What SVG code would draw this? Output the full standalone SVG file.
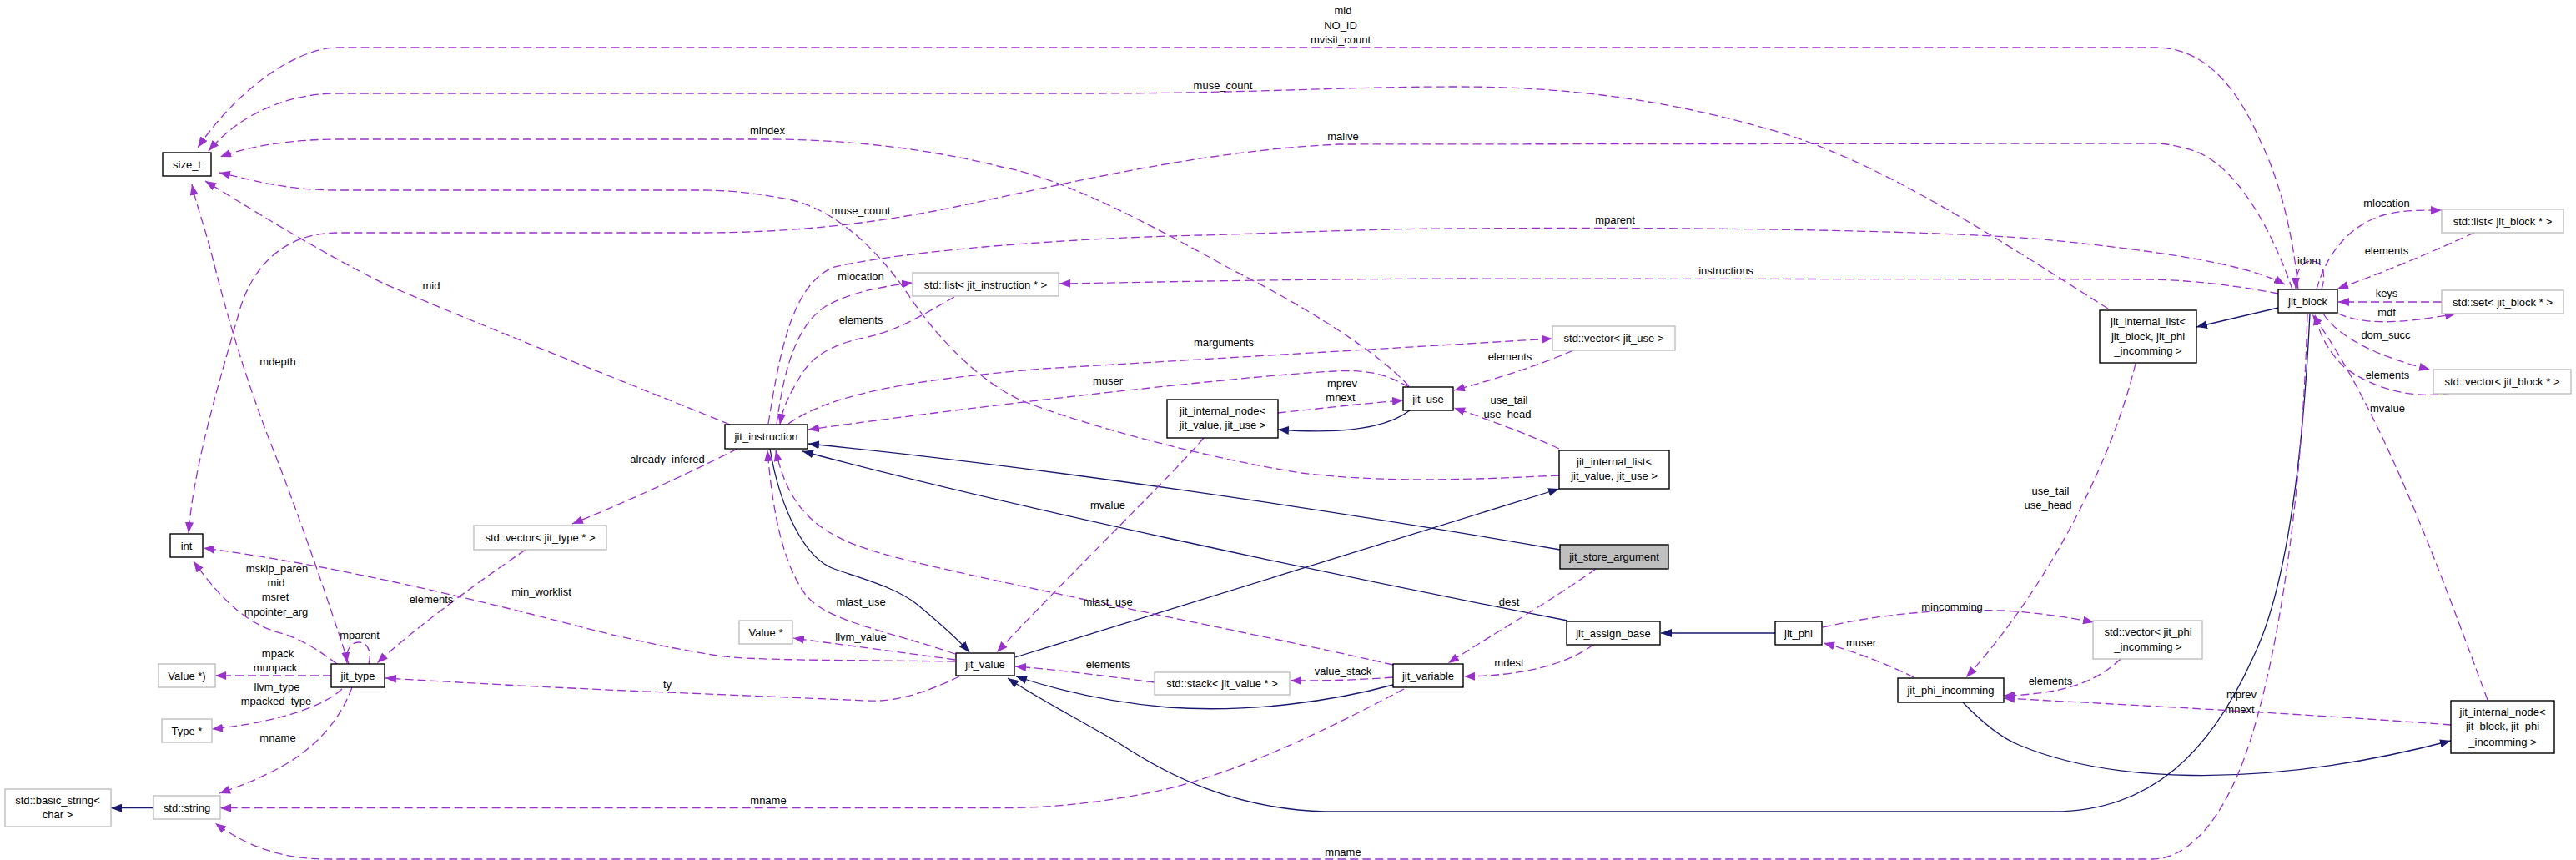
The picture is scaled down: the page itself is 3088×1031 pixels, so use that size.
<svg xmlns="http://www.w3.org/2000/svg" width="3088" height="1031" viewBox="0 0 3088 1031">
<defs>
<style>
.n rect{fill:#fff;stroke:#000;stroke-width:1.4}
.g rect{fill:#fff;stroke:#bfbfbf;stroke-width:1.4}
.f rect{fill:#bfbfbf;stroke:#000;stroke-width:1.4}
text{font-family:"Liberation Sans",Arial,sans-serif;font-size:13px;fill:#000;text-anchor:middle}
.e{fill:none;stroke:#9a32cd;stroke-width:1.3;stroke-dasharray:10,5;marker-end:url(#ap)}
.i{fill:none;stroke:#191970;stroke-width:1.3;marker-end:url(#an)}
</style>
<marker id="ap" viewBox="0 0 13 10" refX="13" refY="5" markerWidth="13" markerHeight="10" markerUnits="userSpaceOnUse" orient="auto"><path d="M0,0L13,5L0,10z" fill="#9a32cd" stroke="none"/></marker>
<marker id="an" viewBox="0 0 13 10" refX="13" refY="5" markerWidth="13" markerHeight="10" markerUnits="userSpaceOnUse" orient="auto"><path d="M0,0L13,5L0,10z" fill="#191970" stroke="none"/></marker>
</defs>
<rect width="3088" height="1031" fill="#fff"/>
<g id="connectors">
<path class="i" d="M1870,659 C1600,612 1250,560 969,532"/>
<path class="i" d="M1879,744 C1600,690 1200,605 962,541"/>
<path class="i" d="M923,538 C935,610 965,670 1000,682 C1040,696 1075,705 1100,725 C1130,750 1150,768 1162,782"/>
<path class="i" d="M1670,821 C1600,840 1500,855 1400,848 C1330,842 1270,828 1218,811"/>
<path class="i" d="M1217,788 C1400,730 1700,640 1869,586"/>
<path class="i" d="M2769,376 C2762,520 2745,700 2700,790 C2650,900 2580,973 2461,973 L1589,973 C1480,970 1400,930 1340,890 C1280,855 1240,835 1208,813"/>
<path class="i" d="M2731,369 L2633,392"/>
<path class="i" d="M2353,842 C2380,870 2400,885 2420,893 C2520,935 2700,950 2938,888"/>
<path class="i" d="M1690,492 C1660,515 1600,520 1532,515"/>
<path class="i" d="M2128,759 L1991,759"/>
<path class="i" d="M184,968.7 L133,968.7"/>
<path class="e" d="M2755,347 C2750,290 2735,220 2710,170 C2680,100 2640,57 2584,57 L405,57 C360,57 290,100 237,177"/>
<path class="e" d="M2527,370 C2400,290 2250,190 2120,155 C2000,120 1880,104 1750,104 C1600,104 1500,112 1300,112 L405,112 C340,112 285,140 250,181"/>
<path class="e" d="M2748,347 C2725,280 2680,190 2620,178 C2605,174 2595,172 2584,172 L1606,173 C1450,180 1300,215 1150,247 C1050,268 950,279 840,279 L405,279 C340,279 300,320 285,380 C262,460 232,560 226,639"/>
<path class="e" d="M921,508 C935,420 950,340 1000,320 C1100,298 1300,285 1440,282 C1550,279 1650,274 1750,274 C2000,272 2300,275 2450,287 C2580,300 2690,315 2739,341"/>
<path class="e" d="M2731,352 C2680,342 2620,335 2570,335 L1750,334 C1500,335 1350,339 1270,340"/>
<path class="e" d="M945,508 C1000,470 1100,455 1250,442 L1861,406"/>
<path class="e" d="M1689,464 C1660,448 1640,443 1600,445 C1500,450 1200,483 969,515"/>
<path class="e" d="M1689,463 C1650,420 1560,365 1480,325 C1380,270 1280,215 1200,200 C1100,175 1000,167 920,167 L405,167 C350,167 300,175 264,188"/>
<path class="e" d="M1869,570 C1750,576 1650,578 1560,567 C1450,550 1300,510 1224,480 C1170,455 1120,400 1090,355 C1060,310 1010,255 950,240 C900,230 870,228 840,228 L405,228 C340,228 300,215 263,207"/>
<path class="e" d="M875,509 C780,470 600,400 460,340 C380,300 300,250 246,217"/>
<path class="e" d="M422,824 C405,870 370,905 320,928 C300,938 280,945 263,951"/>
<path class="e" d="M410,826 C390,845 340,865 254,874"/>
<path class="e" d="M397,810 L258,810"/>
<path class="e" d="M404,796 C385,782 365,768 340,760 C300,750 270,725 232,673"/>
<path class="e" d="M442,796 C446,780 440,770 430,770 C420,770 414,780 416,795"/>
<path class="e" d="M418,796 C400,740 360,620 320,520 C290,440 270,370 255,310 C245,270 235,245 230,221"/>
<path class="e" d="M630,659 C590,686 500,750 452,795"/>
<path class="e" d="M884,538 C830,565 760,598 686,628"/>
<path class="e" d="M1150,811 C1110,830 1075,842 1040,840 L800,830 C650,824 550,818 462,813"/>
<path class="e" d="M1145,793 C1000,791 900,792 860,786 C760,770 700,752 640,737 C520,707 380,675 244,657"/>
<path class="e" d="M1145,791 C1080,782 1010,773 951,765"/>
<path class="e" d="M1145,784 C1060,755 990,745 965,712 C935,670 925,600 920,540"/>
<path class="e" d="M1670,797 C1550,770 1450,750 1320,723 C1200,697 1080,673 1030,655 C980,636 945,610 930,540"/>
<path class="e" d="M1443,525 C1400,575 1300,670 1195,782"/>
<path class="e" d="M1384,818 C1320,810 1270,803 1217,799"/>
<path class="e" d="M1670,812 C1630,815 1600,816 1547,816"/>
<path class="e" d="M1910,773 C1880,795 1830,810 1755,811"/>
<path class="e" d="M1913,682 C1860,720 1790,760 1736,795"/>
<path class="e" d="M1532,495 C1580,490 1630,484 1682,480"/>
<path class="e" d="M1886,420 C1840,440 1790,455 1743,468"/>
<path class="e" d="M1869,538 C1830,520 1790,505 1743,489"/>
<path class="e" d="M931,509 C940,440 955,390 990,367 C1020,350 1060,343 1094,339"/>
<path class="e" d="M1144,356 C1110,375 1080,395 1040,404 C1000,412 975,425 960,450 C945,475 938,490 935,509"/>
<path class="e" d="M2777,347 C2790,300 2820,268 2860,257 C2880,252 2900,252 2927,252"/>
<path class="e" d="M2966,279 C2920,300 2850,330 2802,346"/>
<path class="e" d="M2927,362 L2803,362"/>
<path class="e" d="M2803,376 C2830,388 2870,390 2944,376"/>
<path class="e" d="M2785,376 C2800,400 2840,425 2913,443"/>
<path class="e" d="M2938,471 C2900,478 2850,470 2810,440 C2790,420 2780,400 2775,377"/>
<path class="e" d="M2982,839 C2930,700 2860,500 2772,377"/>
<path class="e" d="M2783,347 C2790,325 2782,312 2770,313 C2758,314 2752,326 2752,346"/>
<path class="e" d="M2938,869 C2750,855 2550,845 2402,837"/>
<path class="e" d="M2560,436 C2530,560 2450,710 2357,812"/>
<path class="e" d="M2185,752 C2260,735 2330,730 2400,732 C2440,734 2480,740 2510,746"/>
<path class="e" d="M2294,812 C2260,795 2220,780 2186,771"/>
<path class="e" d="M2542,790 C2510,820 2470,832 2402,834"/>
<path class="e" d="M2766,376 C2760,600 2730,800 2690,910 C2660,990 2620,1030 2580,1030 L393,1030 C330,1030 290,1010 258,987"/>
<path class="e" d="M1683,826 C1600,870 1480,930 1380,950 C1320,962 1260,968.7 1200,968.7 L264,968.7"/>
</g>
<g id="labels">
<text x="1610" y="17">mid</text>
<text x="1607" y="35">NO_ID</text>
<text x="1607" y="52">mvisit_count</text>
<text x="1466" y="107">muse_count</text>
<text x="1610" y="168">malive</text>
<text x="920" y="161">mindex</text>
<text x="1032" y="257">muse_count</text>
<text x="1936" y="268">mparent</text>
<text x="2069" y="329">instructions</text>
<text x="1032" y="336">mlocation</text>
<text x="1032" y="388">elements</text>
<text x="1467" y="415">marguments</text>
<text x="1810" y="432">elements</text>
<text x="1609" y="464">mprev</text>
<text x="1607" y="481">mnext</text>
<text x="1809" y="484">use_tail</text>
<text x="1807" y="501">use_head</text>
<text x="1328" y="461">muser</text>
<text x="517" y="347">mid</text>
<text x="333" y="438">mdepth</text>
<text x="800" y="555">already_infered</text>
<text x="1328" y="610">mvalue</text>
<text x="332" y="686">mskip_paren</text>
<text x="331" y="703">mid</text>
<text x="330" y="720">msret</text>
<text x="331" y="738">mpointer_arg</text>
<text x="517" y="723">elements</text>
<text x="649" y="714">min_worklist</text>
<text x="1032" y="726">mlast_use</text>
<text x="1328" y="726">mlast_use</text>
<text x="1809" y="726">dest</text>
<text x="431" y="766">mparent</text>
<text x="1032" y="768">llvm_value</text>
<text x="333" y="788">mpack</text>
<text x="330" y="805">munpack</text>
<text x="1328" y="801">elements</text>
<text x="1809" y="799">mdest</text>
<text x="1610" y="809">value_stack</text>
<text x="800" y="825">ty</text>
<text x="332" y="828">llvm_type</text>
<text x="331" y="845">mpacked_type</text>
<text x="333" y="889">mname</text>
<text x="921" y="964">mname</text>
<text x="1610" y="1026">mname</text>
<text x="2861" y="248">mlocation</text>
<text x="2768" y="317">idom</text>
<text x="2861" y="305">elements</text>
<text x="2861" y="356">keys</text>
<text x="2861" y="379">mdf</text>
<text x="2860" y="406">dom_succ</text>
<text x="2862" y="454">elements</text>
<text x="2862" y="494">mvalue</text>
<text x="2458" y="593">use_tail</text>
<text x="2455" y="610">use_head</text>
<text x="2340" y="732">mincomming</text>
<text x="2231" y="775">muser</text>
<text x="2458" y="821">elements</text>
<text x="2687" y="837">mprev</text>
<text x="2685" y="855">mnext</text>
</g>
<g id="size_t" class="n"><rect x="195" y="183" width="58" height="28"/><text x="224" y="201.5">size_t</text></g>
<g id="int" class="n"><rect x="204" y="640" width="39" height="28"/><text x="223.5" y="658.5">int</text></g>
<g id="jit_type" class="n"><rect x="397" y="796" width="64" height="28"/><text x="429" y="814.5">jit_type</text></g>
<g id="value_ptr_paren" class="g"><rect x="190" y="796" width="68" height="28"/><text x="224" y="814.5">Value *)</text></g>
<g id="type_ptr" class="g"><rect x="194" y="862" width="60" height="28"/><text x="224" y="880.5">Type *</text></g>
<g id="std_string" class="g"><rect x="184" y="954" width="80" height="28"/><text x="224" y="972.5">std::string</text></g>
<g id="std_basic_string" class="g"><rect x="6" y="946" width="127" height="45"/><text x="69" y="964">std::basic_string&lt;</text><text x="69" y="981">char &gt;</text></g>
<g id="vector_jit_type" class="g"><rect x="568" y="630" width="159" height="29"/><text x="647.5" y="649">std::vector&lt; jit_type * &gt;</text></g>
<g id="jit_instruction" class="n"><rect x="869" y="509" width="99" height="29"/><text x="918.5" y="528">jit_instruction</text></g>
<g id="value_ptr" class="g"><rect x="886" y="744" width="64" height="28"/><text x="918" y="762.5">Value *</text></g>
<g id="jit_value" class="n"><rect x="1146" y="783" width="70" height="27"/><text x="1181" y="801">jit_value</text></g>
<g id="list_jit_instruction" class="g"><rect x="1094" y="327" width="175" height="28"/><text x="1181.5" y="345.5">std::list&lt; jit_instruction * &gt;</text></g>
<g id="jit_internal_node_value" class="n"><rect x="1399" y="479" width="133" height="46"/><text x="1465.5" y="497">jit_internal_node&lt;</text><text x="1465.5" y="514">jit_value, jit_use &gt;</text></g>
<g id="jit_use" class="n"><rect x="1682" y="464" width="60" height="28"/><text x="1712" y="482.5">jit_use</text></g>
<g id="vector_jit_use" class="g"><rect x="1861" y="391" width="147" height="29"/><text x="1934.5" y="410">std::vector&lt; jit_use &gt;</text></g>
<g id="jit_internal_list_value" class="n"><rect x="1869" y="540" width="132" height="46"/><text x="1935" y="557.5">jit_internal_list&lt;</text><text x="1935" y="575">jit_value, jit_use &gt;</text></g>
<g id="jit_store_argument" class="f"><rect x="1870" y="653" width="130" height="29"/><text x="1935" y="672">jit_store_argument</text></g>
<g id="jit_assign_base" class="n"><rect x="1878" y="745" width="112" height="28"/><text x="1934" y="763.5">jit_assign_base</text></g>
<g id="jit_phi" class="n"><rect x="2128" y="745" width="56" height="28"/><text x="2156" y="763.5">jit_phi</text></g>
<g id="jit_variable" class="n"><rect x="1670" y="796" width="84" height="28"/><text x="1712" y="814.5">jit_variable</text></g>
<g id="stack_jit_value" class="g"><rect x="1384" y="806" width="162" height="27"/><text x="1465" y="824">std::stack&lt; jit_value * &gt;</text></g>
<g id="jit_internal_list_block" class="n"><rect x="2517" y="372" width="116" height="63"/><text x="2575" y="390">jit_internal_list&lt;</text><text x="2575" y="407.5">jit_block, jit_phi</text><text x="2575" y="425">_incomming &gt;</text></g>
<g id="jit_block" class="n"><rect x="2731" y="347" width="71" height="28"/><text x="2766.5" y="365.5">jit_block</text></g>
<g id="list_jit_block" class="g"><rect x="2927" y="251" width="146" height="28"/><text x="3000" y="269.5">std::list&lt; jit_block * &gt;</text></g>
<g id="set_jit_block" class="g"><rect x="2927" y="348" width="146" height="28"/><text x="3000" y="366.5">std::set&lt; jit_block * &gt;</text></g>
<g id="vector_jit_block" class="g"><rect x="2917" y="443" width="165" height="29"/><text x="2999.5" y="462">std::vector&lt; jit_block * &gt;</text></g>
<g id="vector_jit_phi_incomming" class="g"><rect x="2509" y="744" width="131" height="46"/><text x="2575" y="762">std::vector&lt; jit_phi</text><text x="2575" y="779.5">_incomming &gt;</text></g>
<g id="jit_phi_incomming" class="n"><rect x="2275" y="813" width="127" height="29"/><text x="2338.5" y="832">jit_phi_incomming</text></g>
<g id="jit_internal_node_block" class="n"><rect x="2938" y="840" width="124" height="63"/><text x="3000" y="857.5">jit_internal_node&lt;</text><text x="3000" y="875">jit_block, jit_phi</text><text x="3000" y="893.5">_incomming &gt;</text></g>
</svg>
